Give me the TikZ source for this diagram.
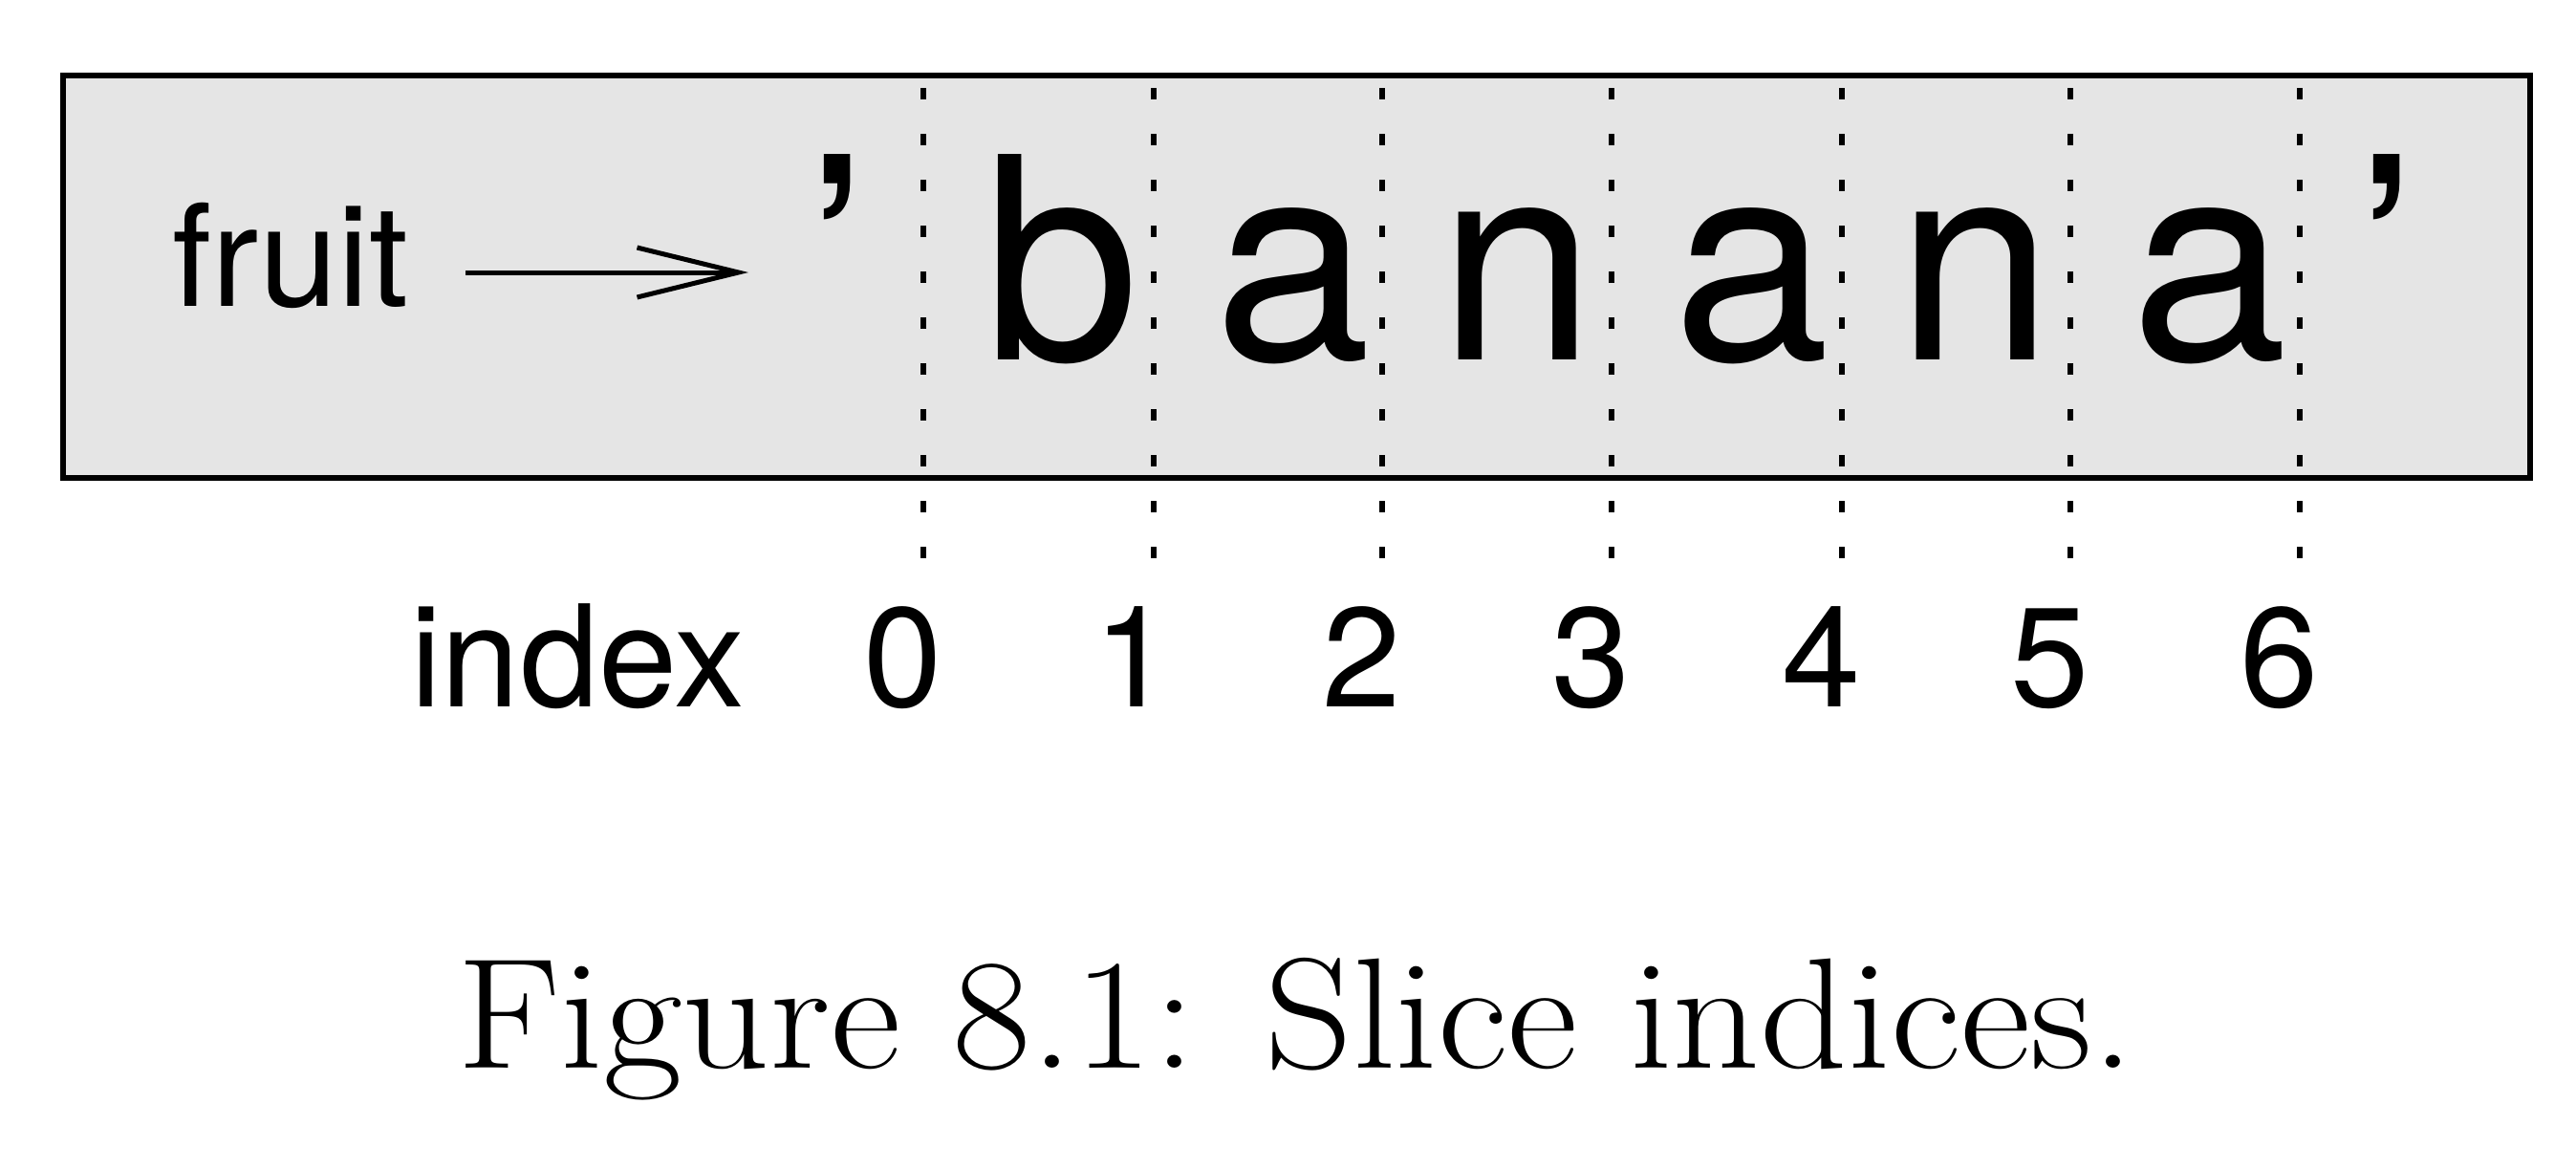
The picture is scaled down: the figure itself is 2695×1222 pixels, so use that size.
\documentclass[tikz,border=0pt]{standalone}
\usepackage{fontspec}
\usepackage{graphicx}
\usetikzlibrary{arrows.meta}
\newfontfamily\hvfont{TeX Gyre Heros}
\definecolor{boxgray}{RGB}{229,229,229}
\tikzset{
  strbox/.style={draw=black, fill=boxgray, line width=0.6mm, inner sep=0pt,
                 minimum width=258.1mm, minimum height=42.1mm},
  bigchar/.style={anchor=base, inner sep=0pt, font=\hvfont\fontsize{83.9pt}{90pt}\selectfont},
  smalltxt/.style={anchor=base, inner sep=0pt, font=\hvfont\fontsize{42.1pt}{48pt}\selectfont},
  captxt/.style={anchor=base, inner sep=0pt, font=\fontsize{46.9pt}{54pt}\selectfont},
  sliceline/.style={line width=0.6mm, dash pattern=on 1.16mm off 3.64mm},
  refarrow/.style={line width=0.5mm, -{Straight Barb[length=10.6mm,width=5.2mm,line width=0.5mm]}}
}
\begin{document}
\begin{tikzpicture}[x=0.1mm,y=-0.1mm]
\path[use as bounding box] (0,0) rectangle (2695,1222);
\node[strbox] (strbox) at (1356.5,289.5) {};
% slice lines
\foreach \lx in {966,1207,1446,1686,1927,2166,2406}{
  \draw[sliceline] (\lx,92) -- (\lx,584);
}
% variable name and arrow
\node[smalltxt] (fruit) at (304,320) {fruit};
\coordinate (arrstart) at (487,285);
\coordinate (arrend) at (783,285);
\draw[refarrow] (arrstart) -- (arrend);
% string characters
\node[bigchar] (qleft) at (876,376) {’};
\node[bigchar] (c0) at (1110,376) {b};
\node[bigchar] (c1) at (1352,376) {a};
\node[bigchar] (c2) at (1587,376) {n};
\node[bigchar] (c3) at (1832,376) {a};
\node[bigchar] (c4) at (2066,376) {n};
\node[bigchar] (c5) at (2311,376) {a};
\node[bigchar] (qright) at (2497,376) {’};
% indices
\node[smalltxt] (idx) at (604,739) {index};
\node[smalltxt] (i0) at (945,739) {0};
\node[smalltxt] (i1) at (1186,739) {1};
\node[smalltxt] (i2) at (1425,739) {2};
\node[smalltxt] (i3) at (1665,739) {3};
\node[smalltxt] (i4) at (1906,739) {4};
\node[smalltxt] (i5) at (2145,739) {5};
\node[smalltxt] (i6) at (2385,739) {6};
% caption
\node[captxt] (caption) at (1356,1117) {\scalebox{1.09}[1]{Figure 8.1: Slice indices.}};
\end{tikzpicture}
\end{document}
